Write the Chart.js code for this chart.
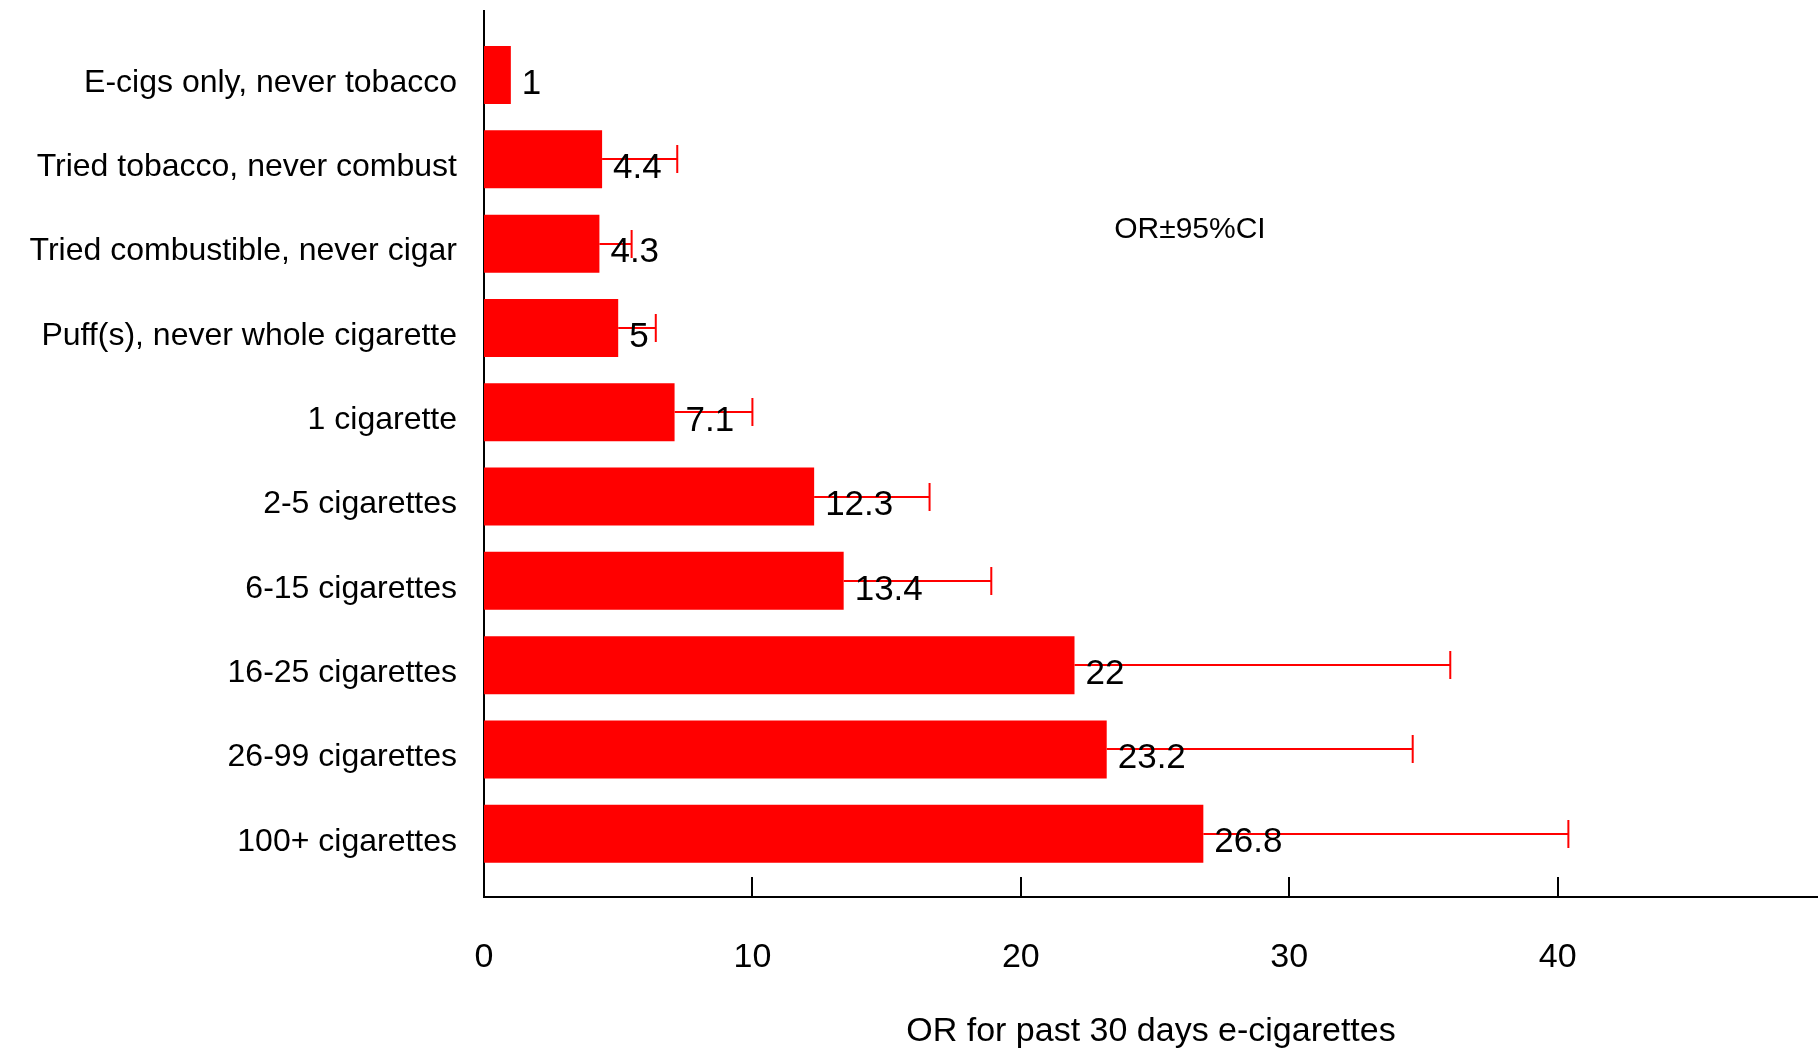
<!DOCTYPE html>
<html>
<head>
<meta charset="utf-8">
<script src="https://cdn.jsdelivr.net/npm/chart.js@4.4.1/dist/chart.umd.min.js"></script>
<style>
  html, body { margin: 0; padding: 0; background: #ffffff; overflow: hidden; }
  #wrap { width: 1818px; height: 1050px; position: relative; }
</style>
</head>
<body>
<div id="wrap"><canvas id="chart"></canvas></div>
<script>
// Odds ratios of past-30-day e-cigarette use by prior tobacco exposure
const categories = [
  'E-cigs only, never tobacco',
  'Tried tobacco, never combust',
  'Tried combustible, never cigar',
  'Puff(s), never whole cigarette',
  '1 cigarette',
  '2-5 cigarettes',
  '6-15 cigarettes',
  '16-25 cigarettes',
  '26-99 cigarettes',
  '100+ cigarettes'
];
const orValues = [1, 4.4, 4.3, 5, 7.1, 12.3, 13.4, 22, 23.2, 26.8];
const ciUpper = [null, 7.2, 5.5, 6.4, 10.0, 16.6, 18.9, 36.0, 34.6, 40.4];
const xTickValues = [0, 10, 20, 30, 40];
const xAxisTitle = 'OR for past 30 days e-cigarettes';
const noteText = 'OR\u00B195%CI';

const FONT = "'Liberation Sans', Arial, Helvetica, sans-serif";
const RED = '#ff0000';

// error bars (upper arm with cap), value labels and the OR/CI note
const overlayPlugin = {
  id: 'orOverlay',
  afterDatasetsDraw(chart) {
    const { ctx, scales: { x, y } } = chart;
    ctx.save();
    ctx.strokeStyle = RED;
    ctx.lineWidth = 2;
    orValues.forEach((v, i) => {
      const hi = ciUpper[i];
      if (hi == null) return;
      const yc = Math.round(y.getPixelForValue(i));
      const x0 = x.getPixelForValue(v);
      const x1 = x.getPixelForValue(hi);
      ctx.beginPath();
      ctx.moveTo(x0, yc);
      ctx.lineTo(x1, yc);
      ctx.moveTo(x1, yc - 14);
      ctx.lineTo(x1, yc + 14);
      ctx.stroke();
    });
    ctx.fillStyle = '#000000';
    ctx.font = '35px ' + FONT;
    ctx.textAlign = 'left';
    ctx.textBaseline = 'middle';
    orValues.forEach((v, i) => {
      ctx.fillText(String(v), x.getPixelForValue(v) + 11, y.getPixelForValue(i) + 9);
    });
    ctx.font = '30px ' + FONT;
    ctx.textAlign = 'center';
    ctx.fillText(noteText, x.getPixelForValue(26.3), y.getPixelForValue(1.83));
    ctx.restore();
  }
};

// tick marks on the value axis point inwards, up from the axis line
const innerTicksPlugin = {
  id: 'innerTicks',
  afterDraw(chart) {
    const { ctx, scales: { x } } = chart;
    ctx.save();
    ctx.strokeStyle = '#000000';
    ctx.lineWidth = 2;
    x.ticks.forEach(t => {
      if (t.value === 0) return;
      const px = Math.round(x.getPixelForValue(t.value));
      ctx.beginPath();
      ctx.moveTo(px, x.top);
      ctx.lineTo(px, x.top - 20);
      ctx.stroke();
    });
    ctx.restore();
  }
};

new Chart(document.getElementById('chart'), {
  type: 'bar',
  data: {
    datasets: [{
      data: orValues.map((v, i) => ({ x: v, y: i })),
      backgroundColor: RED,
      borderWidth: 0,
      categoryPercentage: 1,
      barPercentage: 0.688
    }]
  },
  options: {
    indexAxis: 'y',
    responsive: true,
    maintainAspectRatio: false,
    animation: false,
    devicePixelRatio: 1,
    layout: { padding: { top: 11, right: 0, bottom: 0, left: 0 } },
    plugins: {
      legend: { display: false },
      tooltip: { enabled: false }
    },
    scales: {
      x: {
        type: 'linear',
        position: 'bottom',
        min: 0,
        max: 49.7,
        afterBuildTicks: (axis) => { axis.ticks = xTickValues.map(v => ({ value: v })); },
        afterFit: (axis) => { axis.height = 153; axis.paddingLeft = 0; axis.paddingRight = 0; },
        grid: { display: false, drawTicks: false },
        border: { display: true, color: '#000000', width: 2 },
        ticks: {
          color: '#000000',
          font: { family: FONT, size: 34 },
          padding: 40,
          maxRotation: 0,
          autoSkip: false
        },
        title: {
          display: true,
          text: xAxisTitle,
          color: '#000000',
          font: { family: FONT, size: 34, lineHeight: 1.1 },
          padding: { top: 0, bottom: 0 }
        }
      },
      y: {
        type: 'linear',
        reverse: true,
        offset: false,
        min: -0.76,
        max: 9.75,
        afterBuildTicks: (axis) => { axis.ticks = categories.map((_, i) => ({ value: i })); },
        afterFit: (axis) => { axis.width = 484; axis.paddingTop = 0; axis.paddingBottom = 0; },
        grid: { display: false, drawTicks: false, offset: false },
        border: { display: true, color: '#000000', width: 2 },
        ticks: {
          color: '#000000',
          font: { family: FONT, size: 32 },
          padding: 27,
          labelOffset: 8,
          autoSkip: false,
          callback: (v) => categories[v]
        }
      }
    }
  },
  plugins: [overlayPlugin, innerTicksPlugin]
});
</script>
</body>
</html>
